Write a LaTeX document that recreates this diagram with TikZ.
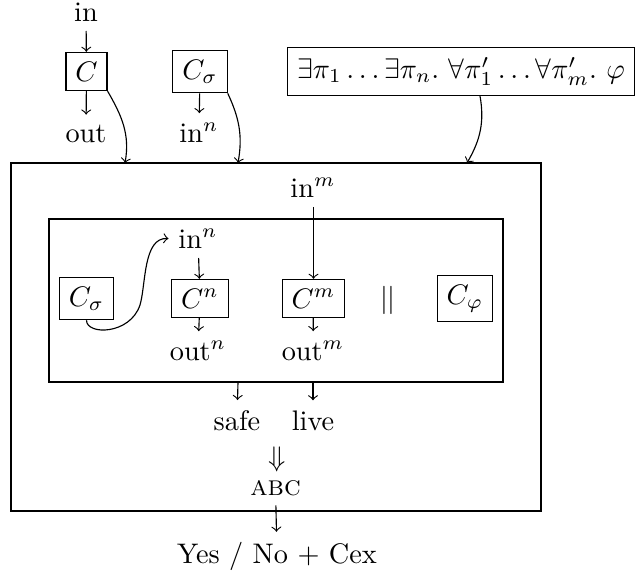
\documentclass[tikz,border=0pt]{standalone}
\begin{document}
\begin{tikzpicture}[x=0.3534pt,y=-0.3534pt,
  box/.style={draw},
  lbl/.style={anchor=base},
  arr/.style={->}]
\useasboundingbox (0,0) rectangle (636,574);
% top row
\node[lbl] (in) at (86,21) {in};
\node[box] (C) at (86.5,71.5) {$C$};
\node[lbl] (out) at (86,142) {out};
\node[box] (Cs) at (200,71.5) {$C_\sigma$};
\node[lbl] (inn) at (199,142) {in$^n$};
\node[box] (phi) at (461,71.5) {$\exists\pi_1\ldots\exists\pi_n.\ \forall\pi'_1\ldots\forall\pi'_m.\ \varphi$};
% outer and inner boxes
\coordinate (o1) at (11,163);
\coordinate (o2) at (541,511);
\draw (o1) rectangle (o2);
\coordinate (i1) at (49,219);
\coordinate (i2) at (503,382);
\draw (i1) rectangle (i2);
\coordinate (t1) at (125,163);
\coordinate (t2) at (238,163);
\coordinate (t3) at (467,163);
% inner content
\node[lbl] (inm) at (313,197) {in$^m$};
\node[box] (Cs2) at (86.5,298.5) {$C_\sigma$};
\node[lbl] (inn2) at (198,248) {in$^n$};
\node[box] (Cn) at (200,298.5) {$C^n$};
\node[box] (Cm) at (313.5,298.5) {$C^m$};
\node (par) at (388,300) {$||$};
\node[box] (Cphi) at (465,298.5) {$C_\varphi$};
\node[lbl] (outn) at (198,360) {out$^n$};
\node[lbl] (outm) at (313,360) {out$^m$};
\coordinate (s0) at (238,382);
\coordinate (l0) at (313,382);
\node[lbl] (safe) at (237,430) {safe};
\node[lbl] (live) at (313,430) {live};
\node (dn) at (277,459) {$\Downarrow$};
\node[lbl] (abc) at (275.5,495) {\textsc{abc}};
\node[lbl] (res) at (277,563) {Yes / No + Cex};
% connectors
\draw[arr] (in) -- (C);
\draw[arr] (C) -- (out);
\draw[arr] (Cs) -- (inn);
\draw[arr] (C.south east) to[out=-60,in=80] (t1);
\draw[arr] (Cs.south east) to[out=-65,in=80] (t2);
\draw[arr] ([xshift=6.7pt]phi.south) to[out=-80,in=60] (t3);
\draw[arr] (inm.south -| Cm.north) -- (Cm.north);
\draw[arr] (inn2) -- (Cn);
\draw[arr] (Cn) -- (outn);
\draw[arr] (Cm) -- (outm);
\draw[arr] (Cs2.south) .. controls +(0,15) and (130,335) .. (140,305)
  .. controls (146,285) and (143,237) .. (inn2.west);
\draw[arr] (s0) -- (safe);
\draw[arr] (l0) -- (live);
\draw[arr] (abc) -- (res);
\end{tikzpicture}
\end{document}
